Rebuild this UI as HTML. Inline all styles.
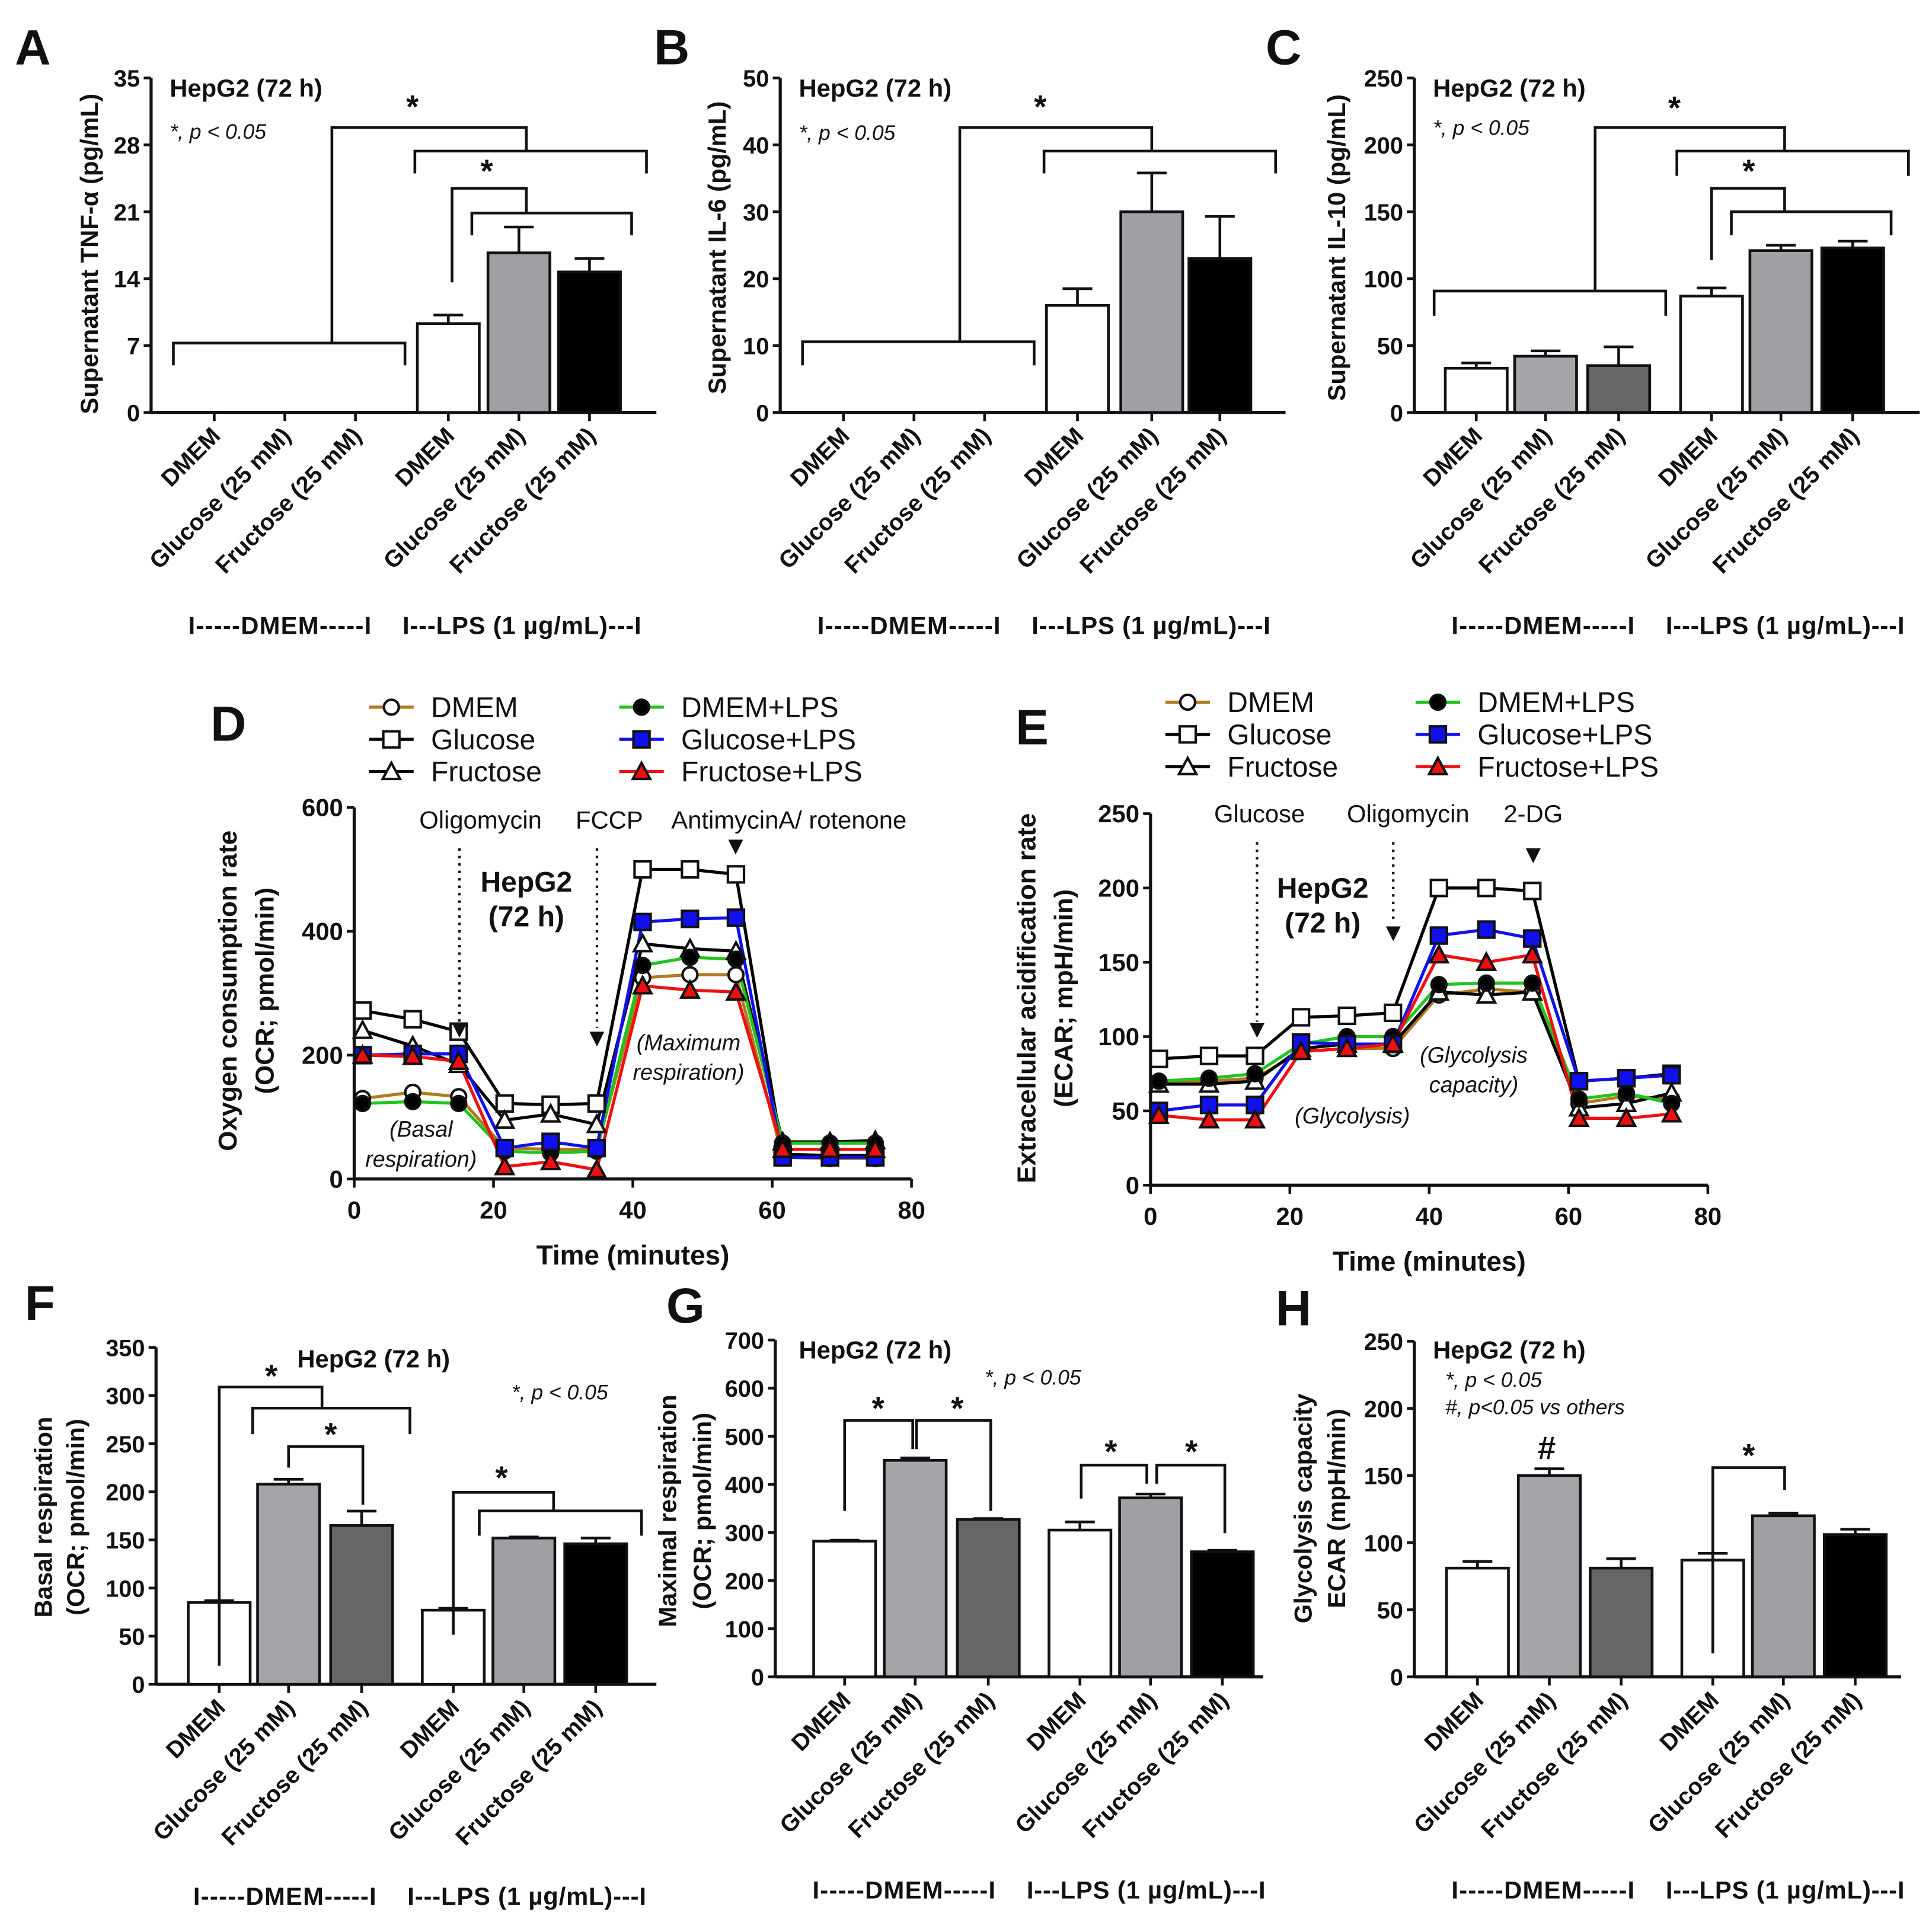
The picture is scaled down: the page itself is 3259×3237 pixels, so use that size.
<!DOCTYPE html>
<html><head><meta charset="utf-8"><style>
html,body{margin:0;padding:0;background:#fff;}
svg{display:block;font-family:"Liberation Sans",Arial,sans-serif;}
</style></head><body>
<svg id="fig" width="3259" height="3237" viewBox="0 0 1560 1549.5" preserveAspectRatio="none" xmlns="http://www.w3.org/2000/svg"></svg>
<script>
// ---- data ----
const catLabels = ["DMEM","Glucose (25 mM)","Fructose (25 mM)","DMEM","Glucose (25 mM)","Fructose (25 mM)"];
const aVals = [0,0,0,9.3,16.7,14.7];
const aErr  = [0,0,0,10.2,19.4,16.1];
const aTicks = [0,7,14,21,28,35];
const bVals = [0,0,0,16,30,23];
const bErr  = [0,0,0,18.5,35.8,29.3];
const bTicks = [0,10,20,30,40,50];
const cVals = [33,42,35,87,121,123];
const cErr  = [37,46,49,93,125,128];
const cTicks = [0,50,100,150,200,250];
const fVals = [85,208,165,77,152,146];
const fErr  = [87,213,180,79,153,152];
const fTicks = [0,50,100,150,200,250,300,350];
const gVals = [282,450,327,305,372,260];
const gErr  = [284,455,329,322,380,263];
const gTicks = [0,100,200,300,400,500,600,700];
const hVals = [81,150,81,87,120,106];
const hErr  = [86,155,88,92,122,110];
const hTicks = [0,50,100,150,200,250];
const timePts = [1.2,8.4,15,21.6,28.2,34.8,41.4,48.2,54.8,61.5,68.3,74.8];
const timeTicks = [0,20,40,60,80];
const seriesNames = ["DMEM","Glucose","Fructose","DMEM+LPS","Glucose+LPS","Fructose+LPS"];
const ocrDMEM   = [130,140,133,50,48,48,325,330,330,35,33,33];
const ocrGlu    = [272,258,238,122,120,122,500,500,492,40,38,38];
const ocrFru    = [240,215,185,95,105,88,380,372,368,60,60,62];
const ocrDMEMlps= [122,125,122,45,42,45,345,358,355,58,58,58];
const ocrGlulps = [200,202,202,50,60,50,415,420,422,35,35,35];
const ocrFrulps = [200,198,190,20,28,15,312,305,302,48,48,48];
const ocrTicks = [0,200,400,600];
const ecDMEM    = [70,70,72,90,92,92,128,132,130,55,60,58];
const ecGlu     = [85,87,87,113,114,116,200,200,198,70,72,75];
const ecFru     = [68,68,70,92,95,95,130,128,130,52,55,62];
const ecDMEMlps = [70,72,75,95,100,100,135,136,136,58,62,55];
const ecGlulps  = [50,54,54,96,95,95,168,172,166,70,72,74];
const ecFrulps  = [47,44,44,90,92,95,155,150,155,45,45,48];
const ecTicks = [0,50,100,150,200,250];

const NS="http://www.w3.org/2000/svg";
const svg=document.getElementById('fig');
function mk(tag,attrs,parent,name){
  const e=document.createElementNS(NS,tag);
  for(const k in attrs) e.setAttribute(k,attrs[k]);
  
  
  (parent||svg).appendChild(e); return e;
}
function txt(x,y,s,opt,parent,name){
  const o=Object.assign({x:x,y:y,'font-size':19,'font-weight':'bold',fill:'#111'},opt||{});
  const t=mk('text',o,parent,name||'label'); t.textContent=s; return t;
}
function line(x1,y1,x2,y2,w,parent,name,col){
  return mk('line',{x1:x1,y1:y1,x2:x2,y2:y2,stroke:col||'#111','stroke-width':w||2.2},parent,name||'line');
}
function poly(pts,parent,name){
  return mk('polyline',{points:pts.map(p=>p.join(',')).join(' '),fill:'none',stroke:'#111','stroke-width':2.2},parent,name||'bracket');
}

function barPanel(o){
  const g=mk('g',{},svg,o.name);
  const sy=v=>o.y0-(v/o.ymax)*(o.y0-o.ytop);
  line(o.ax,o.ytop,o.ax,o.y0,2.5,g,'y-axis');
  o.ticks.forEach(t=>{line(o.ax-6,sy(t),o.ax,sy(t),2.2,g,'y-tick');
    txt(o.ax-9,sy(t)+7,String(t),{'text-anchor':'end'},g,'y-tick-label');});
  line(o.ax,o.y0,o.axEnd,o.y0,2.5,g,'x-axis');
  o.vals.forEach((v,i)=>{
    const cx=o.ax+o.offs[i];
    line(cx,o.y0,cx,o.y0+7,2.2,g,'x-tick');
    if(v>0){
      const top=sy(v), et=sy(o.errs[i]);
      line(cx,top,cx,et,2.2,g,'error-bar');
      line(cx-12,et,cx+12,et,2.2,g,'error-cap');
      mk('rect',{x:cx-25,y:top,width:50,height:o.y0-top,fill:o.colors[i],stroke:'#111','stroke-width':2.2},g,'bar-'+i);
    }
    const lx=cx+6, ly=o.y0+20;
    txt(lx,ly,catLabels[i],{'text-anchor':'end',transform:`rotate(-45 ${lx} ${ly})`,'font-size':19},g,'category-label');
  });
  txt(o.ax+30,o.gy,'I-----DMEM-----I',{'font-size':20,'letter-spacing':'0.6'},g,'group-label-dmem');
  txt(o.ax+203,o.gy,'I---LPS (1 µg/mL)---I',{'font-size':20,'letter-spacing':'0.4'},g,'group-label-lps');
  txt(o.lx,o.ly,o.letter,{'font-size':40},g,'panel-letter');
  o.ylab.forEach((s,k)=>{
    const x=o.ylx[k], y=o.lyc;
    txt(x,y,s,{'text-anchor':'middle',transform:`rotate(-90 ${x} ${y})`,'font-size':20},g,'y-axis-title');
  });
  (o.extra||[]).forEach(f=>f(g));
}
const grayL='#a5a5a9', grayD='#666666';
function br(g,pts){poly(pts,g,'significance-bracket');}
function star(g,x,y,s){txt(x,y,s||'*',{'text-anchor':'middle','font-size':26},g,'significance-star');}

barPanel({name:'panel-a',letter:'A',lx:12,ly:52,ax:122,axEnd:530,y0:333,ytop:63,ymax:35,ticks:aTicks,vals:aVals,errs:aErr,
 offs:[51,108,165,240,297,354],colors:['#fff','#fff','#fff','#fff','#a0a0a4','#000'],gy:512,
 ylab:['Supernatant TNF-α (pg/mL)'],ylx:[79],lyc:205,
 extra:[g=>{txt(137,78,'HepG2 (72 h)',{'font-size':20},g,'panel-title');
   txt(137,112,'*, p < 0.05',{'font-size':17,'font-weight':'normal','font-style':'italic'},g,'p-note');
   br(g,[[140,295],[140,277],[327,277],[327,295]]);br(g,[[268,277],[268,103],[425,103],[425,122]]);
   br(g,[[335,140],[335,122],[522,122],[522,140]]);star(g,333,95);
   br(g,[[365,228],[365,152],[425,152],[425,172]]);br(g,[[381,190],[381,172],[510,172],[510,190]]);star(g,393,147);}]});
barPanel({name:'panel-b',letter:'B',lx:528,ly:52,ax:630,axEnd:1038,y0:333,ytop:63,ymax:50,ticks:bTicks,vals:bVals,errs:bErr,
 offs:[51,108,165,240,300,355],colors:['#fff','#fff','#fff','#fff','#a0a0a4','#000'],gy:512,
 ylab:['Supernatant IL-6 (pg/mL)'],ylx:[586],lyc:200,
 extra:[g=>{txt(645,78,'HepG2 (72 h)',{'font-size':20},g,'panel-title');
   txt(645,113,'*, p < 0.05',{'font-size':17,'font-weight':'normal','font-style':'italic'},g,'p-note');
   br(g,[[648,295],[648,276],[835,276],[835,295]]);br(g,[[775,276],[775,103],[930,103],[930,122]]);
   br(g,[[843,140],[843,122],[1030,122],[1030,140]]);star(g,840,95);}]});
barPanel({name:'panel-c',letter:'C',lx:1022,ly:52,ax:1142,axEnd:1550,y0:333,ytop:63,ymax:250,ticks:cTicks,vals:cVals,errs:cErr,
 offs:[50,106,165,240,296,354],colors:['#fff',grayL,grayD,'#fff','#a0a0a4','#000'],gy:512,
 ylab:['Supernatant IL-10 (pg/mL)'],ylx:[1086],lyc:200,
 extra:[g=>{txt(1157,78,'HepG2 (72 h)',{'font-size':20},g,'panel-title');
   txt(1157,109,'*, p < 0.05',{'font-size':17,'font-weight':'normal','font-style':'italic'},g,'p-note');
   br(g,[[1158,255],[1158,235],[1345,235],[1345,255]]);br(g,[[1288,235],[1288,103],[1441,103],[1441,122]]);
   br(g,[[1354,142],[1354,122],[1541,122],[1541,142]]);star(g,1352,96);
   br(g,[[1382,210],[1382,152],[1441,152],[1441,171]]);br(g,[[1398,190],[1398,171],[1527,171],[1527,190]]);star(g,1412,147);}]});
barPanel({name:'panel-f',letter:'F',lx:20,ly:1066,ax:126,axEnd:530,y0:1360,ytop:1088,ymax:350,ticks:fTicks,vals:fVals,errs:fErr,
 offs:[51,107,166,240,297,355],colors:['#fff',grayL,grayD,'#fff','#a0a0a4','#000'],gy:1538,
 ylab:['Basal respiration','(OCR; pmol/min)'],ylx:[42,68],lyc:1225,
 extra:[g=>{txt(240,1104,'HepG2 (72 h)',{'font-size':20},g,'panel-title');
   txt(413,1130,'*, p < 0.05',{'font-size':17,'font-weight':'normal','font-style':'italic'},g,'p-note');
   br(g,[[177,1345],[177,1120],[260,1120],[260,1137]]);br(g,[[204,1158],[204,1137],[331,1137],[331,1158]]);star(g,219,1120);
   br(g,[[233,1185],[233,1168],[293,1168],[293,1215]]);star(g,267,1167);
   br(g,[[366,1320],[366,1205],[447,1205],[447,1220]]);br(g,[[387,1240],[387,1220],[518,1220],[518,1240]]);star(g,405,1202);}]});
barPanel({name:'panel-g',letter:'G',lx:538,ly:1068,ax:626,axEnd:1020,y0:1354,ytop:1082,ymax:700,ticks:gTicks,vals:gVals,errs:gErr,
 offs:[56,113,172,246,303,361],colors:['#fff',grayL,grayD,'#fff','#a0a0a4','#000'],gy:1533,
 ylab:['Maximal respiration','(OCR; pmol/min)'],ylx:[546,574],lyc:1220,
 extra:[g=>{txt(645,1097,'HepG2 (72 h)',{'font-size':20},g,'panel-title');
   txt(795,1118,'*, p < 0.05',{'font-size':17,'font-weight':'normal','font-style':'italic'},g,'p-note');
   br(g,[[682,1220],[682,1147],[737,1147],[737,1170]]);star(g,709,1146);
   br(g,[[740,1170],[740,1147],[800,1147],[800,1220]]);star(g,773,1146);
   br(g,[[873,1210],[873,1183],[926,1183],[926,1198]]);star(g,897,1181);
   br(g,[[934,1198],[934,1183],[989,1183],[989,1238]]);star(g,962,1181);}]});
barPanel({name:'panel-h',letter:'H',lx:1030,ly:1070,ax:1142,axEnd:1535,y0:1354,ytop:1083,ymax:250,ticks:hTicks,vals:hVals,errs:hErr,
 offs:[51,109,167,241,298,356],colors:['#fff',grayL,grayD,'#fff','#a0a0a4','#000'],gy:1533,
 ylab:['Glycolysis capacity','ECAR (mpH/min)'],ylx:[1059,1086],lyc:1218,
 extra:[g=>{txt(1157,1097,'HepG2 (72 h)',{'font-size':20},g,'panel-title');
   txt(1167,1120,'*, p < 0.05',{'font-size':17,'font-weight':'normal','font-style':'italic'},g,'p-note');
   txt(1167,1142,'#, p<0.05 vs others',{'font-size':17,'font-weight':'normal','font-style':'italic'},g,'p-note-hash');
   star(g,1249,1178,'#');
   br(g,[[1383,1335],[1383,1185],[1441,1185],[1441,1203]]);star(g,1412,1184);}]});

// ---- line panels ----
const sStyles=[
 {col:'#b07a1e',m:'circle',fill:'#fff'},
 {col:'#000',m:'square',fill:'#fff'},
 {col:'#000',m:'triangle',fill:'#fff'},
 {col:'#1fc41f',m:'circle',fill:'#000'},
 {col:'#1010ee',m:'square',fill:'#1010ee'},
 {col:'#ee1010',m:'triangle',fill:'#ee1010'}];
function marker(g,x,y,st,name){
  if(st.m==='circle') mk('circle',{cx:x,cy:y,r:6,fill:st.fill,stroke:'#111','stroke-width':2},g,name);
  else if(st.m==='square') mk('rect',{x:x-6.5,y:y-6.5,width:13,height:13,fill:st.fill,stroke:'#111','stroke-width':2},g,name);
  else mk('polygon',{points:`${x},${y-7} ${x+7},${y+6} ${x-7},${y+6}`,fill:st.fill,stroke:'#111','stroke-width':2},g,name);
}
function linePanel(o){
  const g=mk('g',{},svg,o.name);
  const sx=t=>o.ax+t*(o.axEnd-o.ax)/80;
  const sy=v=>o.y0-(v/o.ymax)*(o.y0-o.ytop);
  line(o.ax,o.ytop,o.ax,o.y0,2.5,g,'y-axis');
  line(o.ax,o.y0,o.axEnd,o.y0,2.5,g,'x-axis');
  o.ticks.forEach(t=>{line(o.ax-6,sy(t),o.ax,sy(t),2.2,g,'y-tick');
    txt(o.ax-9,sy(t)+7,String(t),{'text-anchor':'end','font-size':20},g,'y-tick-label');});
  timeTicks.forEach(t=>{line(sx(t),o.y0,sx(t),o.y0+7,2.2,g,'x-tick');
    txt(sx(t),o.y0+32,String(t),{'text-anchor':'middle','font-size':20},g,'x-tick-label');});
  o.series.forEach((ser,si)=>{
    const st=sStyles[si];
    mk('polyline',{points:ser.map((v,i)=>sx(timePts[i])+','+sy(v)).join(' '),fill:'none',stroke:st.col,'stroke-width':2.5},g,'series-line-'+si);
  });
  o.series.forEach((ser,si)=>{ser.forEach((v,i)=>marker(g,sx(timePts[i]),sy(v),sStyles[si],'point-'+si));});
  seriesNames.forEach((n,i)=>{
    const col=i<3?0:1, row=i%3;
    const mx=o.legX[col], my=o.legY+row*26;
    line(mx-18,my,mx+18,my,2.5,g,'legend-line',sStyles[i].col);
    marker(g,mx,my,sStyles[i],'legend-marker');
    txt(mx+32,my+8,n,{'font-size':23,'font-weight':'normal'},g,'legend-entry');
  });
  txt(o.lx,o.ly,o.letter,{'font-size':40},g,'panel-letter');
  o.ylab.forEach((s,k)=>{const x=o.ylx[k],y=o.lyc;
    txt(x,y,s,{'text-anchor':'middle',transform:`rotate(-90 ${x} ${y})`,'font-size':21},g,'y-axis-title');});
  txt((o.ax+o.axEnd)/2,o.y0+69,'Time (minutes)',{'text-anchor':'middle','font-size':22},g,'x-axis-title');
  o.extra(g,sx,sy);
}
function arrow(g,x,y){mk('polygon',{points:`${x-6},${y-12} ${x+6},${y-12} ${x},${y}`,fill:'#111'},g,'injection-arrow');}
function dotted(g,x,y1,y2){mk('line',{x1:x,y1:y1,x2:x,y2:y2,stroke:'#111','stroke-width':2,'stroke-dasharray':'2,4'},g,'injection-line');}
const norm={'font-weight':'normal','font-size':20};
const ital={'font-weight':'normal','font-style':'italic','font-size':18,'text-anchor':'middle'};
linePanel({name:'panel-d',letter:'D',lx:170,ly:598,ax:286,axEnd:736,y0:952,ytop:652,ymax:600,ticks:ocrTicks,
 series:[ocrDMEM,ocrGlu,ocrFru,ocrDMEMlps,ocrGlulps,ocrFrulps],legX:[316,518],legY:571,
 ylab:['Oxygen consumption rate','(OCR; pmol/min)'],ylx:[191,221],lyc:800,
 extra:(g)=>{txt(388,669,'Oligomycin',Object.assign({'text-anchor':'middle'},norm),g,'annotation');
  txt(492,669,'FCCP',Object.assign({'text-anchor':'middle'},norm),g,'annotation');
  txt(637,669,'AntimycinA/ rotenone',Object.assign({'text-anchor':'middle'},norm),g,'annotation');
  dotted(g,371,685,826);arrow(g,371,838);dotted(g,482,685,830);arrow(g,482,845);arrow(g,594,690);
  txt(425,720,'HepG2',{'text-anchor':'middle','font-size':23},g,'hepg2-label');
  txt(425,748,'(72 h)',{'text-anchor':'middle','font-size':23},g,'hepg2-label');
  txt(556,848,'(Maximum',ital,g,'annotation');txt(556,872,'respiration)',ital,g,'annotation');
  txt(340,918,'(Basal',ital,g,'annotation');txt(340,942,'respiration)',ital,g,'annotation');}});
linePanel({name:'panel-e',letter:'E',lx:820,ly:601,ax:929,axEnd:1379,y0:957,ytop:657,ymax:250,ticks:ecTicks,
 series:[ecDMEM,ecGlu,ecFru,ecDMEMlps,ecGlulps,ecFrulps],legX:[959,1161],legY:567,
 ylab:['Extracellular acidification rate','(ECAR; mpH/min)'],ylx:[836,866],lyc:806,
 extra:(g)=>{txt(1017,664,'Glucose',Object.assign({'text-anchor':'middle'},norm),g,'annotation');
  txt(1137,664,'Oligomycin',Object.assign({'text-anchor':'middle'},norm),g,'annotation');
  txt(1238,664,'2-DG',Object.assign({'text-anchor':'middle'},norm),g,'annotation');
  dotted(g,1015,680,825);arrow(g,1015,838);dotted(g,1125,680,745);arrow(g,1125,760);arrow(g,1238,697);
  txt(1068,725,'HepG2',{'text-anchor':'middle','font-size':23},g,'hepg2-label');
  txt(1068,753,'(72 h)',{'text-anchor':'middle','font-size':23},g,'hepg2-label');
  txt(1190,858,'(Glycolysis',ital,g,'annotation');txt(1190,882,'capacity)',ital,g,'annotation');
  txt(1092,907,'(Glycolysis)',ital,g,'annotation');}});
</script>
</body></html>
